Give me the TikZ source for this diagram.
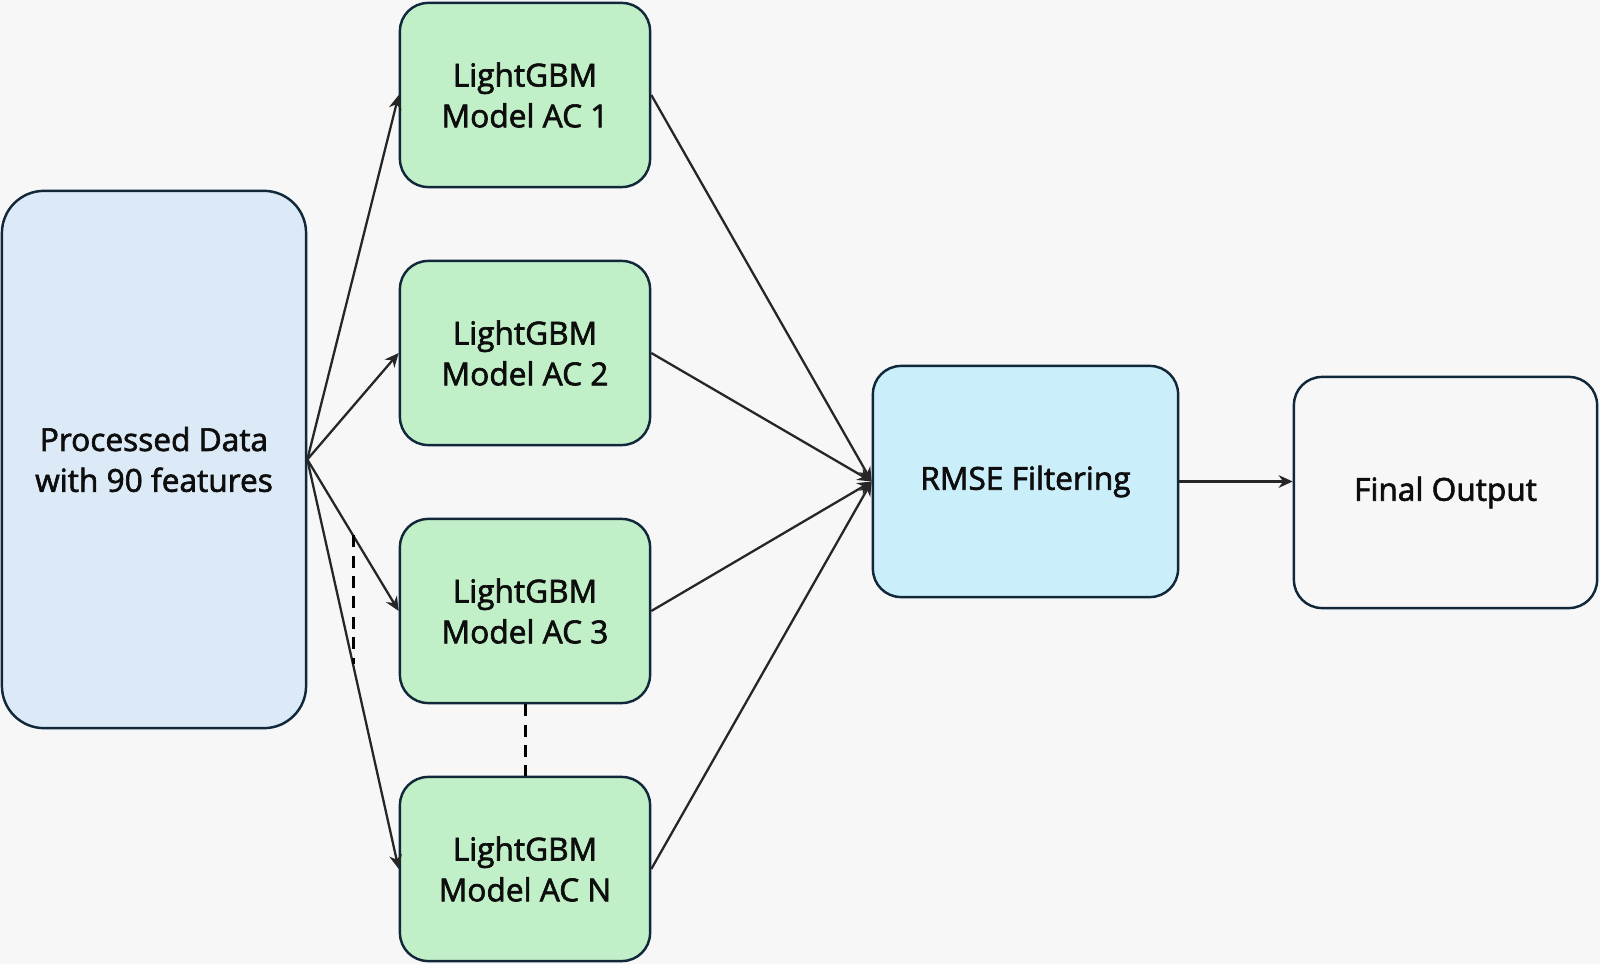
\documentclass[tikz,border=0pt]{standalone}
\usepackage{fontspec}
\setmainfont{Open Sans}
\newfontfamily\medfont{Open Sans}[FakeBold=2]
\usetikzlibrary{arrows.meta,positioning}
\definecolor{bgc}{HTML}{F7F7F7}
\definecolor{edgec}{HTML}{10283A}
\definecolor{procc}{HTML}{DCEAF7}
\definecolor{modc}{HTML}{C1F0C8}
\definecolor{rmsec}{HTML}{CBEEFB}
\begin{document}
\begin{tikzpicture}[x=0.01cm,y=-0.01cm,
  box/.style={draw=edgec,line width=0.7pt,rounded corners=8pt,align=center,
    font=\fontsize{9}{11.6}\selectfont\medfont,text=black!95,inner sep=2pt},
  model/.style={box,fill=modc,minimum width=2.5cm,minimum height=1.84cm},
  arr/.style={-{Stealth[length=4pt,width=3.6pt]},line width=0.65pt,draw=black!85},
  gap/.style={line width=0.85pt,dash pattern=on 3.4pt off 2.4pt}]
% background
\fill[bgc] (0,0) rectangle (1600,964);
\useasboundingbox (0,0) rectangle (1600,964);
% input
\node[box,fill=procc,rounded corners=12pt,minimum width=3.04cm,minimum height=5.37cm] (proc) at (154,459.5) {Processed Data\\with 90 features};
% models
\foreach \i/\y/\lab in {1/95/1,2/353/2,3/611/3,n/869/N}{
  \node[model] (m\i) at (525,\y) {LightGBM\\Model AC \lab};
}
% filter and output
\node[box,fill=rmsec,minimum width=3.05cm,minimum height=2.31cm] (rmse) at (1025.5,481.5) {RMSE Filtering};
\node[box,fill=bgc,minimum width=3.03cm,minimum height=2.31cm] (out) at (1445.5,492.5) {Final Output};
% fan out
\draw[arr] (proc.east) -- (m1.west);
\draw[arr] (proc.east) -- (m2.west);
\draw[arr] (proc.east) -- coordinate[pos=.5] (c3) (m3.west);
\draw[arr] (proc.east) -- coordinate[pos=.5] (cn) (mn.west);
% fan in
\foreach \i in {1,2,3,n}{
  \draw[arr] (m\i.east) -- (rmse.west);
}
\draw[arr] (rmse.east) -- (rmse.east -| out.west);
% omitted models
\draw[gap] (c3) -- (cn);
\draw[gap] (m3.south) -- (mn.north);
\end{tikzpicture}
\end{document}
